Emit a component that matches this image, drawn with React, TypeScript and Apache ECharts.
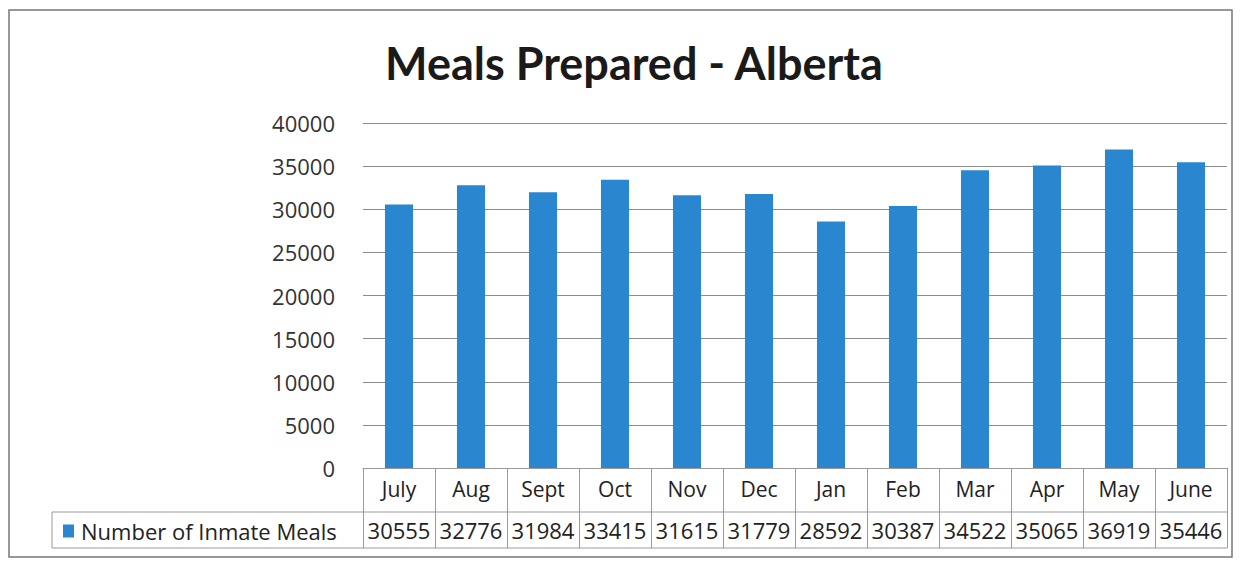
import React, { useEffect, useRef } from "react";
import * as echarts from "echarts";

const months = ["July", "Aug", "Sept", "Oct", "Nov", "Dec", "Jan", "Feb", "Mar", "Apr", "May", "June"];
const meals = [30555, 32776, 31984, 33415, 31615, 31779, 28592, 30387, 34522, 35065, 36919, 35446];
const seriesName = "Number of Inmate Meals";
const titleText = "Meals Prepared - Alberta";

const FONT = "Open Sans";
const GRID_L = 363;
const GRID_R = 1227;
const GRID_T = 123;
const GRID_B = 468;
const ROW2 = 512;
const ROW3 = 548;
const LINE = "#9a9a9a";

export default function App() {
  const ref = useRef<HTMLDivElement>(null);
  useEffect(() => {
    document.body.style.margin = "0";
    const chart = echarts.init(ref.current!, null, { renderer: "svg" });
    chart.setOption({
      animation: false,
      backgroundColor: "#ffffff",
      title: {
        text: titleText,
        left: 629,
        top: 35,
        textAlign: "center",
        textStyle: { fontFamily: "Lato", fontWeight: "bold", fontSize: 45, color: "#1a1a1a" },
      },
      legend: {
        show: true,
        left: 58,
        top: ROW2 + 3,
        itemWidth: 11,
        itemHeight: 13,
        itemGap: 4,
        icon: "rect",
        data: [seriesName],
        textStyle: { fontFamily: FONT, fontSize: 22, color: "#222", padding: [0, 0, 0, 2] },
      },
      grid: { left: GRID_L, right: 1248 - GRID_R, top: GRID_T, bottom: 563 - GRID_B, containLabel: false },
      xAxis: [
        {
          type: "category",
          data: months,
          position: "bottom",
          axisLine: { show: true, lineStyle: { color: LINE, width: 1 } },
          axisTick: { show: true, length: ROW3 - GRID_B, lineStyle: { color: LINE, width: 1 } },
          axisLabel: { interval: 0, margin: 10, fontFamily: FONT, fontSize: 21, color: "#222" },
        },
        {
          type: "category",
          data: meals.map(String),
          position: "bottom",
          offset: ROW2 - GRID_B,
          axisLine: { show: false },
          axisTick: { show: false },
          axisLabel: { interval: 0, margin: 7, fontFamily: FONT, fontSize: 22, color: "#222" },
        },
      ],
      yAxis: {
        type: "value",
        min: 0,
        max: 40000,
        interval: 5000,
        axisLine: { show: false },
        axisTick: { show: false },
        splitLine: { show: true, lineStyle: { color: "#8c8c8c", width: 1 } },
        axisLabel: { margin: 28, fontFamily: FONT, fontSize: 22, color: "#333", formatter: (v: number) => String(v) },
      },
      series: [
        {
          name: seriesName,
          type: "bar",
          xAxisIndex: 0,
          data: meals,
          barWidth: "39%",
          itemStyle: { color: "#2a86cf" },
        },
      ],
      graphic: [
        { type: "rect", shape: { x: 9, y: 10, width: 1223, height: 547 }, style: { fill: "none", stroke: "#777", lineWidth: 1.5 } },
        { type: "line", shape: { x1: 52, y1: ROW2, x2: GRID_R, y2: ROW2 }, style: { stroke: LINE, lineWidth: 1 } },
        { type: "line", shape: { x1: 52, y1: ROW3, x2: GRID_R, y2: ROW3 }, style: { stroke: LINE, lineWidth: 1 } },
        { type: "line", shape: { x1: 52, y1: ROW2, x2: 52, y2: ROW3 }, style: { stroke: LINE, lineWidth: 1 } },
      ],
    });
    return () => chart.dispose();
  }, []);
  return <div ref={ref} style={{ width: 1248, height: 563 }} />;
}
